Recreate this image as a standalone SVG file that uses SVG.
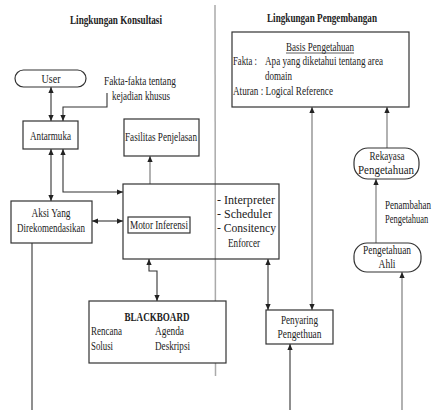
<svg xmlns="http://www.w3.org/2000/svg" width="436" height="410" viewBox="0 0 436 410">
<defs>
<marker id="ah" viewBox="0 0 8 8" refX="8" refY="4" markerWidth="6" markerHeight="6" markerUnits="userSpaceOnUse" orient="auto-start-reverse">
<path d="M0,0.5 L8,4 L0,7.5 z" fill="#222"/>
</marker>
<style>
.box{fill:#fff;stroke:#333;stroke-width:1.2}
.t{font-family:"Liberation Serif","Times New Roman",serif;font-size:12.5px;fill:#222}
.b{font-weight:bold}
.c{stroke:#333;stroke-width:1.1;fill:none}
.g{stroke:#888;stroke-width:1.3;fill:none}
.m{text-anchor:middle}
</style>
</defs>
<rect width="436" height="410" fill="#fff"/>
<line x1="215" y1="5" x2="215.5" y2="376" stroke="#aaa" stroke-width="1.5"/>
<text class="t b m" x="116" y="24" textLength="92" lengthAdjust="spacingAndGlyphs">Lingkungan Konsultasi</text>
<text class="t b m" x="322" y="22" textLength="110" lengthAdjust="spacingAndGlyphs">Lingkungan Pengembangan</text>

<g id="connectors">
<line class="c" x1="51" y1="87" x2="51" y2="121" marker-start="url(#ah)" marker-end="url(#ah)"/>
<path class="c" d="M107,93 V107 H63 V121" marker-end="url(#ah)"/>
<line class="c" x1="51" y1="149" x2="51" y2="201" marker-start="url(#ah)" marker-end="url(#ah)"/>
<path class="c" d="M63,149 V192 H123" marker-start="url(#ah)" marker-end="url(#ah)"/>
<line class="g" x1="150" y1="184" x2="150" y2="156" marker-end="url(#ah)"/>
<line class="c" x1="92" y1="221" x2="123" y2="221" marker-start="url(#ah)" marker-end="url(#ah)"/>
<path class="c" d="M149,259 V271 H157 V301" marker-start="url(#ah)" marker-end="url(#ah)"/>
<line class="c" x1="32" y1="243" x2="32" y2="410"/>
<line class="c" x1="268" y1="259" x2="268" y2="310" marker-start="url(#ah)" marker-end="url(#ah)"/>
<line class="g" x1="312" y1="107" x2="312" y2="310" marker-start="url(#ah)" marker-end="url(#ah)"/>
<line class="c" x1="290" y1="410" x2="290" y2="344" marker-end="url(#ah)"/>
<line class="g" x1="387" y1="148" x2="387" y2="107" marker-end="url(#ah)"/>
<line class="g" x1="376" y1="243" x2="376" y2="179" marker-end="url(#ah)"/>
<line class="g" x1="402" y1="410" x2="402" y2="272" marker-end="url(#ah)"/>
</g>

<g id="user">
<rect class="box" x="15" y="70" width="71" height="17" rx="8.5"/>
<text class="t m" x="51" y="83" textLength="19" lengthAdjust="spacingAndGlyphs">User</text>
</g>
<g id="fakta-label">
<text class="t" x="104" y="85" textLength="72" lengthAdjust="spacingAndGlyphs">Fakta-fakta tentang</text>
<text class="t" x="112" y="100" textLength="58" lengthAdjust="spacingAndGlyphs">kejadian khusus</text>
</g>
<g id="antarmuka">
<rect class="box" x="23" y="121" width="55" height="28"/>
<text class="t m" x="50.5" y="140" textLength="41" lengthAdjust="spacingAndGlyphs">Antarmuka</text>
</g>
<g id="fasilitas">
<rect class="box" x="124" y="119" width="75" height="37"/>
<text class="t m" x="161" y="141" textLength="72" lengthAdjust="spacingAndGlyphs">Fasilitas Penjelasan</text>
</g>
<g id="aksi">
<rect class="box" x="11" y="201" width="81" height="42"/>
<text class="t m" x="51" y="217" textLength="39" lengthAdjust="spacingAndGlyphs">Aksi Yang</text>
<text class="t m" x="51" y="232" textLength="68" lengthAdjust="spacingAndGlyphs">Direkomendasikan</text>
</g>
<g id="motor">
<rect class="box" x="123" y="184" width="156" height="75" style="fill:none"/>
<rect class="box" x="128" y="217" width="62" height="16"/>
<text class="t m" x="159" y="229" textLength="58" lengthAdjust="spacingAndGlyphs">Motor Inferensi</text>
<text class="t" x="217" y="204" textLength="58" lengthAdjust="spacingAndGlyphs">- Interpreter</text>
<text class="t" x="217" y="218" textLength="55" lengthAdjust="spacingAndGlyphs">- Scheduler</text>
<text class="t" x="217" y="232" textLength="59" lengthAdjust="spacingAndGlyphs">- Consitency</text>
<text class="t" x="228" y="247" textLength="32" lengthAdjust="spacingAndGlyphs">Enforcer</text>
</g>
<g id="blackboard">
<rect class="box" x="89" y="301" width="137" height="62"/>
<text class="t b m" x="157" y="321" textLength="65" lengthAdjust="spacingAndGlyphs">BLACKBOARD</text>
<text class="t" x="91" y="335" textLength="31" lengthAdjust="spacingAndGlyphs">Rencana</text>
<text class="t" x="155" y="335" textLength="29" lengthAdjust="spacingAndGlyphs">Agenda</text>
<text class="t" x="91" y="350" textLength="22" lengthAdjust="spacingAndGlyphs">Solusi</text>
<text class="t" x="155" y="350" textLength="35" lengthAdjust="spacingAndGlyphs">Deskripsi</text>
</g>
<g id="basis">
<rect class="box" x="232" y="32" width="177" height="75"/>
<text class="t m" x="320" y="51" textLength="68" lengthAdjust="spacingAndGlyphs">Basis Pengetahuan</text>
<line x1="286" y1="53" x2="354" y2="53" stroke="#333" stroke-width="0.8"/>
<text class="t" x="233" y="65" textLength="24" lengthAdjust="spacingAndGlyphs">Fakta :</text>
<text class="t" x="265" y="65" textLength="118" lengthAdjust="spacingAndGlyphs">Apa yang diketahui tentang area</text>
<text class="t" x="265" y="80" textLength="27" lengthAdjust="spacingAndGlyphs">domain</text>
<text class="t" x="233" y="95" textLength="100" lengthAdjust="spacingAndGlyphs">Aturan : Logical Reference</text>
</g>
<g id="rekayasa">
<rect class="box" x="354" y="148" width="65" height="31" rx="14"/>
<text class="t m" x="387" y="160" textLength="35" lengthAdjust="spacingAndGlyphs">Rekayasa</text>
<text class="t m" x="386" y="174" textLength="56" lengthAdjust="spacingAndGlyphs">Pengetahuan</text>
</g>
<g id="penambahan-label">
<text class="t" transform="translate(385,209) scale(0.72,1)">Penambahan</text>
<text class="t" transform="translate(385,223) scale(0.68,1)">Pengetahuan</text>
</g>
<g id="ahli">
<rect class="box" x="354" y="243" width="67" height="29" rx="13"/>
<text class="t m" x="387" y="254" textLength="48" lengthAdjust="spacingAndGlyphs">Pengetahuan</text>
<text class="t m" x="387" y="268" textLength="17" lengthAdjust="spacingAndGlyphs">Ahli</text>
</g>
<g id="penyaring">
<rect class="box" x="266" y="310" width="67" height="34"/>
<text class="t m" x="299.5" y="324" textLength="37" lengthAdjust="spacingAndGlyphs">Penyaring</text>
<text class="t m" x="299.5" y="338" textLength="44" lengthAdjust="spacingAndGlyphs">Pengethuan</text>
</g>
</svg>
